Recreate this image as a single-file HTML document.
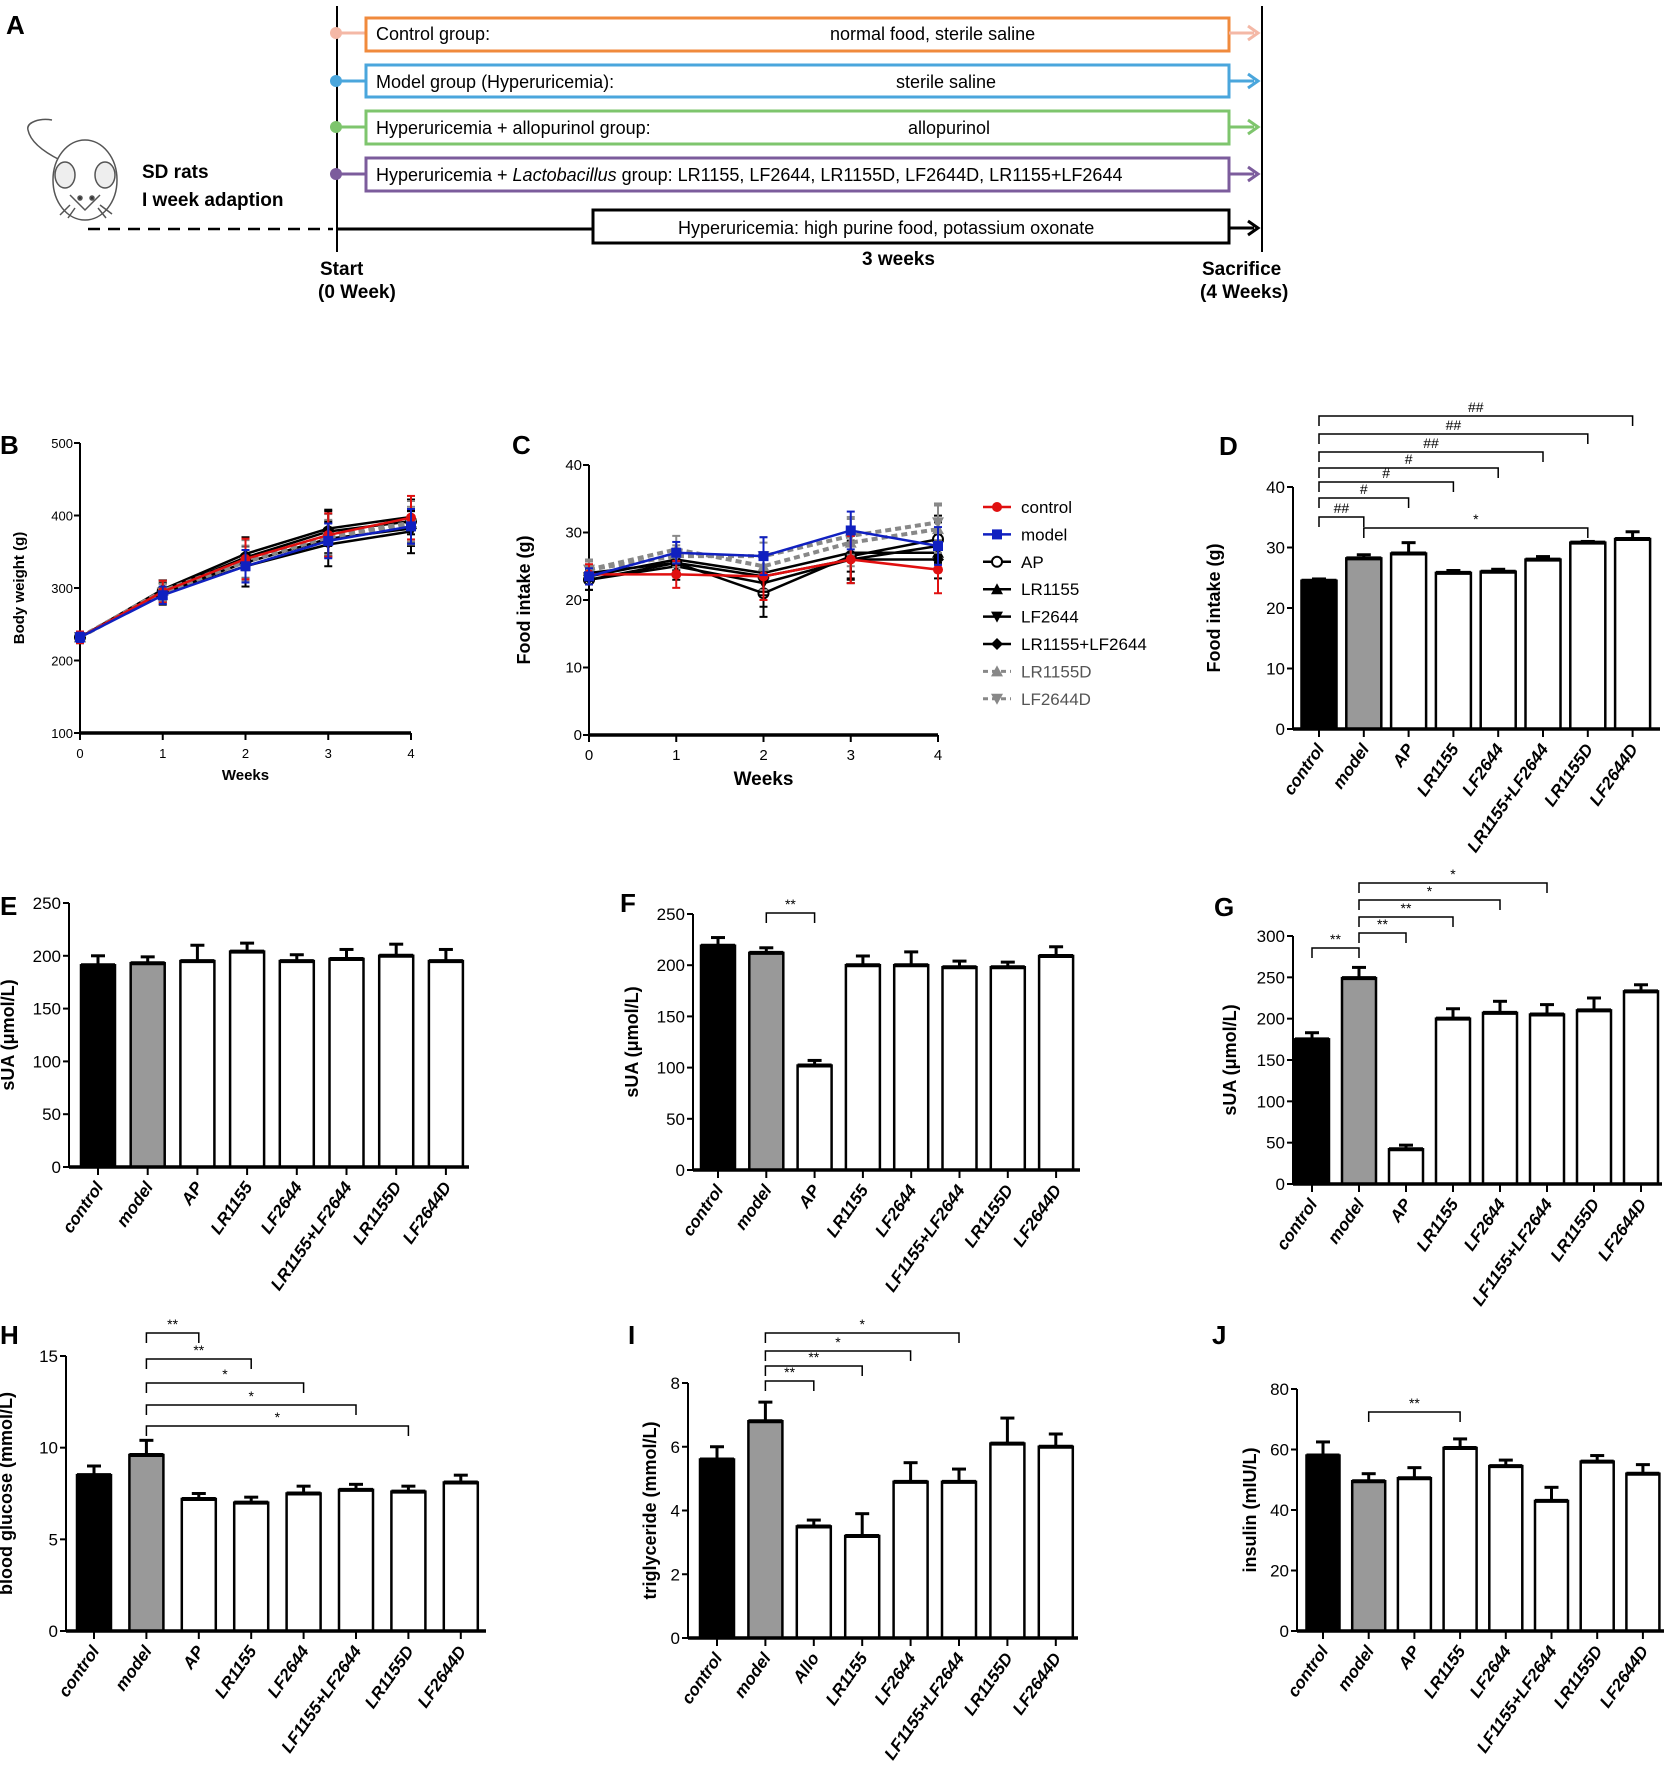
<!DOCTYPE html>
<html><head><meta charset="utf-8"><style>
html,body{margin:0;padding:0;background:#fff}
svg{display:block;font-family:"Liberation Sans",sans-serif}
</style></head><body>
<svg id="fig" width="1664" height="1772" viewBox="0 0 1664 1772" xmlns="http://www.w3.org/2000/svg">
<g id="panelA" font-size="18">
  <text x="6" y="34" font-size="26" font-weight="bold">A</text>
  <line x1="337" y1="6" x2="337" y2="252" stroke="#000" stroke-width="2"/>
  <line x1="1262" y1="6" x2="1262" y2="252" stroke="#000" stroke-width="2"/>
  <g>
    <circle cx="336" cy="33" r="6" fill="#f4b8a6"/><line x1="336" y1="33" x2="366" y2="33" stroke="#f4b8a6" stroke-width="3"/>
    <rect x="366" y="18" width="863" height="33" fill="none" stroke="#f08a3c" stroke-width="3"/>
    <line x1="1229" y1="33" x2="1254" y2="33" stroke="#f4b8a6" stroke-width="3"/><path d="M1248 26 L1258 33 L1248 40" fill="none" stroke="#f4b8a6" stroke-width="3"/>
    <text x="376" y="40">Control group:</text><text x="830" y="40">normal food, sterile saline</text>
  </g>
  <g>
    <circle cx="336" cy="81" r="6" fill="#4aa6dc"/><line x1="336" y1="81" x2="366" y2="81" stroke="#4aa6dc" stroke-width="3"/>
    <rect x="366" y="65" width="863" height="32" fill="none" stroke="#4aa6dc" stroke-width="3"/>
    <line x1="1229" y1="81" x2="1254" y2="81" stroke="#4aa6dc" stroke-width="3"/><path d="M1248 74 L1258 81 L1248 88" fill="none" stroke="#4aa6dc" stroke-width="3"/>
    <text x="376" y="88">Model group (Hyperuricemia):</text><text x="896" y="88">sterile saline</text>
  </g>
  <g>
    <circle cx="336" cy="127" r="6" fill="#7ec56d"/><line x1="336" y1="127" x2="366" y2="127" stroke="#7ec56d" stroke-width="3"/>
    <rect x="366" y="111" width="863" height="33" fill="none" stroke="#7ec56d" stroke-width="3"/>
    <line x1="1229" y1="127" x2="1254" y2="127" stroke="#7ec56d" stroke-width="3"/><path d="M1248 120 L1258 127 L1248 134" fill="none" stroke="#7ec56d" stroke-width="3"/>
    <text x="376" y="134">Hyperuricemia + allopurinol group:</text><text x="908" y="134">allopurinol</text>
  </g>
  <g>
    <circle cx="336" cy="174" r="6" fill="#7c5c9c"/><line x1="336" y1="174" x2="366" y2="174" stroke="#7c5c9c" stroke-width="3"/>
    <rect x="366" y="158" width="863" height="33" fill="none" stroke="#7c5c9c" stroke-width="3"/>
    <line x1="1229" y1="174" x2="1254" y2="174" stroke="#7c5c9c" stroke-width="3"/><path d="M1248 167 L1258 174 L1248 181" fill="none" stroke="#7c5c9c" stroke-width="3"/>
    <text x="376" y="181">Hyperuricemia + <tspan font-style="italic">Lactobacillus</tspan> group:  LR1155, LF2644, LR1155D, LF2644D, LR1155+LF2644</text>
  </g>
  <g>
    <line x1="88" y1="229" x2="333" y2="229" stroke="#000" stroke-width="2.5" stroke-dasharray="12,8"/>
    <line x1="337" y1="229" x2="593" y2="229" stroke="#000" stroke-width="3"/>
    <rect x="593" y="210" width="636" height="33" fill="#fff" stroke="#000" stroke-width="3"/>
    <line x1="1229" y1="228" x2="1254" y2="228" stroke="#000" stroke-width="3"/><path d="M1248 221 L1258 228 L1248 235" fill="none" stroke="#000" stroke-width="3"/>
    <text x="678" y="234">Hyperuricemia: high purine food, potassium oxonate</text>
  </g>
  <g fill="none" stroke="#555" stroke-width="1.5">
    <path d="M60 160 C40 150 30 140 28 130 C26 122 40 118 52 120"/>
    <ellipse cx="85" cy="180" rx="32" ry="40" fill="#fff"/>
    <ellipse cx="65" cy="175" rx="10" ry="13" fill="#eee"/><ellipse cx="105" cy="175" rx="10" ry="13" fill="#eee"/>
    <path d="M70 195 L85 210 L100 195"/>
    <circle cx="80" cy="198" r="2" fill="#333"/><circle cx="92" cy="198" r="2" fill="#333"/>
    <path d="M70 205 L60 215 M75 208 L68 218 M98 208 L106 218 M100 205 L112 214"/>
  </g>
  <text x="142" y="178" font-weight="bold" font-size="19">SD rats</text>
  <text x="142" y="206" font-weight="bold" font-size="19">I week adaption</text>
  <text x="320" y="275" font-weight="bold" font-size="19">Start</text>
  <text x="318" y="298" font-weight="bold" font-size="19">(0 Week)</text>
  <text x="862" y="265" font-weight="bold" font-size="19">3 weeks</text>
  <text x="1202" y="275" font-weight="bold" font-size="19">Sacrifice</text>
  <text x="1200" y="298" font-weight="bold" font-size="19">(4 Weeks)</text>
</g>
<g id="charts"></g>
</svg>
<script>
// ---------- Panel B (body weight) data ----------
const weeks = [0,1,2,3,4];
const bwNames = ["control","model","AP","LR1155","LF2644","LR1155+LF2644","LR1155D","LF2644D"];
const bwControl = [232,295,340,373,397];
const bwModel = [232,290,330,365,385];
const bwAP = [232,296,342,378,392];
const bwLR1155 = [232,298,347,382,398];
const bwLF2644 = [232,292,330,360,378];
const bwMix = [232,294,335,368,382];
const bwLR1155D = [232,296,338,372,390];
const bwLF2644D = [232,294,336,370,388];
const bwErr = [8,15,28,30,30];
// ---------- Panel C (food intake by week) data ----------
const fiControl = [23.8,23.8,23.5,26,24.5];
const fiModel = [23.5,27,26.5,30.3,28];
const fiAP = [23,25.5,21,26.5,29];
const fiLR1155 = [23.5,26,24,27,27];
const fiLF2644 = [23,25,22.5,26,28];
const fiMix = [24,25.5,23.5,26,26];
const fiLR1155D = [24.5,27.5,25,28.5,30.5];
const fiLF2644D = [24.5,26.5,26.5,29.5,31.5];
const fiErr = [1.5,2,3.5,3.5,3.5];
// ---------- Bar panels data ----------
const catsA = ["control","model","AP","LR1155","LF2644","LR1155+LF2644","LR1155D","LF2644D"];
const catsB = ["control","model","AP","LR1155","LF2644","LF1155+LF2644","LR1155D","LF2644D"];
const catsI = ["control","model","Allo","LR1155","LF2644","LF1155+LF2644","LR1155D","LF2644D"];
const dVals = [24.5,28.2,29,25.8,26,28,30.8,31.4];
const dErrs = [0.3,0.6,1.8,0.4,0.4,0.5,0.2,1.2];
const dTicks = [0,10,20,30,40];
const eVals = [191,193,195,204,195,197,200,195];
const eErrs = [9,6,15,8,6,9,11,11];
const eTicks = [0,50,100,150,200,250];
const fVals = [219,212,102,200,200,198,198,209];
const fErrs = [8,5,5,9,13,6,5,9];
const fTicks = [0,50,100,150,200,250];
const gVals = [175,249,42,200,207,205,210,233];
const gErrs = [8,13,5,12,14,12,15,8];
const gTicks = [0,50,100,150,200,250,300];
const hVals = [8.5,9.6,7.2,7.0,7.5,7.7,7.6,8.1];
const hErrs = [0.5,0.8,0.3,0.3,0.4,0.3,0.3,0.4];
const hTicks = [0,5,10,15];
const iVals = [5.6,6.8,3.5,3.2,4.9,4.9,6.1,6.0];
const iErrs = [0.4,0.6,0.2,0.7,0.6,0.4,0.8,0.4];
const iTicks = [0,2,4,6,8];
const jVals = [58,49.5,50.5,60.5,54.5,43,56,52];
const jErrs = [4.5,2.5,3.5,3,2,4.5,2,3];
const jTicks = [0,20,40,60,80];

const NS="http://www.w3.org/2000/svg";
const root=document.getElementById('charts');
function mk(tag,attrs,parent,text){const e=document.createElementNS(NS,tag);for(const k in attrs)e.setAttribute(k,attrs[k]);if(text!==undefined)e.textContent=text;(parent||root).appendChild(e);return e;}
const fills=["#000","#999","#fff","#fff","#fff","#fff","#fff","#fff"];

function barChart(c){
  const g=mk('g',{});
  
  
  const ymax=c.ticks[c.ticks.length-1];
  const Y=v=>c.y0-(v/ymax)*(c.y0-c.yTop);
  const X=i=>c.c0+i*c.dx;
  const lab=mk('text',{x:c.lx,y:c.ly,'font-size':26,'font-weight':'bold'},g,c.letter);
  
  
  mk('line',{x1:c.ax,y1:c.yTop,x2:c.ax,y2:c.y0,stroke:'#000','stroke-width':2},g);
  c.ticks.forEach(t=>{
    mk('line',{x1:c.ax-6,y1:Y(t),x2:c.ax,y2:Y(t),stroke:'#000','stroke-width':2},g);
    const tl=mk('text',{x:c.ax-8,y:Y(t)+6,'font-size':17,'text-anchor':'end'},g,String(t));
    
    
  });
  const yt=mk('text',{x:0,y:0,'font-size':18,'font-weight':'bold','text-anchor':'middle',transform:`translate(${c.tx},${(c.y0+c.yTop)/2}) rotate(-90)`},g,c.title);
  
  
  c.vals.forEach((v,i)=>{
    const x=X(i),yv=Y(v),ye=Y(v+c.errs[i]);
    mk('line',{x1:x,y1:yv,x2:x,y2:ye,stroke:'#000','stroke-width':3},g);
    mk('line',{x1:x-7,y1:ye,x2:x+7,y2:ye,stroke:'#000','stroke-width':3},g);
    const b=mk('rect',{x:x-c.w/2,y:yv,width:c.w,height:c.y0-yv,fill:fills[i],stroke:'#000','stroke-width':2.5},g);
    
    
    mk('line',{x1:x-c.w/2,y1:yv,x2:x+c.w/2,y2:yv,stroke:'#000','stroke-width':4},g);
    mk('line',{x1:x,y1:c.y0,x2:x,y2:c.y0+8,stroke:'#000','stroke-width':2},g);
    const cl=mk('text',{x:0,y:0,'font-size':17,'font-style':'italic','font-weight':'bold','text-anchor':'end',transform:`translate(${x+6},${c.y0+20}) rotate(-55)`},g,c.cats[i]);
    
    
  });
  mk('line',{x1:c.ax,y1:c.y0,x2:c.axEnd,y2:c.y0,stroke:'#000','stroke-width':3.5},g);
  (c.ann||[]).forEach(a=>{
    const x1=X(a[0]),x2=X(a[1]),y=a[2];
    mk('path',{d:`M${x1} ${y+10} L${x1} ${y} L${x2} ${y} L${x2} ${y+10}`,fill:'none',stroke:'#000','stroke-width':1.5},g);
    const at=mk('text',{x:(x1+x2)/2,y:y-4,'font-size':14,'text-anchor':'middle'},g,a[3]);
    
    
  });
}

barChart({name:'panel-d-food-intake',letter:'D',lx:1219,ly:455,ax:1293,y0:729,yTop:487,ticks:dTicks,c0:1319,dx:44.8,w:35,vals:dVals,errs:dErrs,cats:catsA,axEnd:1660,title:'Food intake (g)',tx:1220,
  ann:[[0,1,517,'##'],[0,2,498,'#'],[0,3,482,'#'],[0,4,468,'#'],[0,5,452,'##'],[0,6,434,'##'],[0,7,416,'##'],[1,6,528,'*']]});
barChart({name:'panel-e-sua',letter:'E',lx:0,ly:915,ax:69,y0:1167,yTop:903,ticks:eTicks,c0:98,dx:49.7,w:34,vals:eVals,errs:eErrs,cats:catsA,axEnd:469,title:'sUA (μmol/L)',tx:14});
barChart({name:'panel-f-sua',letter:'F',lx:620,ly:912,ax:693,y0:1170,yTop:914,ticks:fTicks,c0:718,dx:48.3,w:34,vals:fVals,errs:fErrs,cats:catsB,axEnd:1080,title:'sUA (μmol/L)',tx:638,
  ann:[[1,2,913,'**']]});
barChart({name:'panel-g-sua',letter:'G',lx:1214,ly:916,ax:1293,y0:1184,yTop:936,ticks:gTicks,c0:1312,dx:47,w:34,vals:gVals,errs:gErrs,cats:catsB,axEnd:1662,title:'sUA (μmol/L)',tx:1236,
  ann:[[0,1,948,'**'],[1,2,933,'**'],[1,3,917,'**'],[1,4,900,'*'],[1,5,883,'*']]});
barChart({name:'panel-h-blood-glucose',letter:'H',lx:0,ly:1344,ax:66,y0:1631,yTop:1356,ticks:hTicks,c0:94,dx:52.4,w:34,vals:hVals,errs:hErrs,cats:catsB,axEnd:486,title:'blood glucose (mmol/L)',tx:12,
  ann:[[1,2,1333,'**'],[1,3,1359,'**'],[1,4,1383,'*'],[1,5,1405,'*'],[1,6,1426,'*']]});
barChart({name:'panel-i-triglyceride',letter:'I',lx:628,ly:1344,ax:688,y0:1638,yTop:1383,ticks:iTicks,c0:717,dx:48.4,w:34,vals:iVals,errs:iErrs,cats:catsI,axEnd:1078,title:'triglyceride (mmol/L)',tx:656,
  ann:[[1,5,1333,'*'],[1,4,1351,'*'],[1,3,1366,'**'],[1,2,1381,'**']]});
barChart({name:'panel-j-insulin',letter:'J',lx:1212,ly:1344,ax:1297,y0:1631,yTop:1389,ticks:jTicks,c0:1323,dx:45.7,w:33,vals:jVals,errs:jErrs,cats:catsB,axEnd:1664,title:'insulin (mIU/L)',tx:1256,
  ann:[[1,3,1412,'**']]});

// ---------- line charts ----------
const styles=[
 {col:'#e01010',dash:'',m:'circle'},{col:'#1020c0',dash:'',m:'square'},{col:'#000',dash:'',m:'open'},
 {col:'#000',dash:'',m:'tri'},{col:'#000',dash:'',m:'tridown'},{col:'#000',dash:'',m:'diamond'},
 {col:'#888',dash:'6,4',m:'tri'},{col:'#888',dash:'6,4',m:'tridown'}];
function marker(g,m,x,y,col){
  if(m==='circle')mk('circle',{cx:x,cy:y,r:5,fill:col},g);
  else if(m==='square')mk('rect',{x:x-5,y:y-5,width:10,height:10,fill:col},g);
  else if(m==='open')mk('circle',{cx:x,cy:y,r:5,fill:'#fff',stroke:col,'stroke-width':2},g);
  else if(m==='tri')mk('path',{d:`M${x} ${y-6} L${x+6} ${y+5} L${x-6} ${y+5}Z`,fill:col},g);
  else if(m==='tridown')mk('path',{d:`M${x} ${y+6} L${x+6} ${y-5} L${x-6} ${y-5}Z`,fill:col},g);
  else mk('path',{d:`M${x} ${y-6} L${x+6} ${y} L${x} ${y+6} L${x-6} ${y}Z`,fill:col},g);
}
function lineChart(c){
  const g=mk('g',{});
  
  
  const X=w=>c.x0+w*(c.x4-c.x0)/4;
  const ymin=c.ticks[0],ymax=c.ticks[c.ticks.length-1];
  const Y=v=>c.y0-(v-ymin)/(ymax-ymin)*(c.y0-c.yTop);
  const lab=mk('text',{x:c.lx,y:c.ly,'font-size':26,'font-weight':'bold'},g,c.letter);
  
  
  mk('line',{x1:c.x0,y1:c.yTop,x2:c.x0,y2:c.y0,stroke:'#000','stroke-width':2},g);
  mk('line',{x1:c.x0,y1:c.y0,x2:c.x4,y2:c.y0,stroke:'#000','stroke-width':3.5},g);
  c.ticks.forEach(t=>{
    mk('line',{x1:c.x0-6,y1:Y(t),x2:c.x0,y2:Y(t),stroke:'#000','stroke-width':2},g);
    const tl=mk('text',{x:c.x0-7,y:Y(t)+5,'font-size':c.fs,'text-anchor':'end'},g,String(t));
    
    
  });
  weeks.forEach(w=>{
    mk('line',{x1:X(w),y1:c.y0,x2:X(w),y2:c.y0+7,stroke:'#000','stroke-width':2},g);
    const tl=mk('text',{x:X(w),y:c.y0+25,'font-size':c.fs,'text-anchor':'middle'},g,String(w));
    
    
  });
  const xt=mk('text',{x:(c.x0+c.x4)/2,y:c.y0+c.xtOff,'font-size':c.xfs,'font-weight':'bold','text-anchor':'middle'},g,'Weeks');
  
  
  const yt=mk('text',{x:0,y:0,'font-size':c.yfs,'font-weight':'bold','text-anchor':'middle',transform:`translate(${c.tx},${(c.y0+c.yTop)/2}) rotate(-90)`},g,c.title);
  
  
  const order=[2,3,4,5,6,7,0,1];
  order.forEach(si=>{
    const s=c.series[si],st=styles[si];
    const sg=mk('g',{},g);
    
    
    s.forEach((v,w)=>{const e=c.err[w]*(si%2?0.8:1);
      mk('line',{x1:X(w),y1:Y(v-e),x2:X(w),y2:Y(v+e),stroke:st.col,'stroke-width':2},sg);
      mk('line',{x1:X(w)-4,y1:Y(v+e),x2:X(w)+4,y2:Y(v+e),stroke:st.col,'stroke-width':2},sg);
      mk('line',{x1:X(w)-4,y1:Y(v-e),x2:X(w)+4,y2:Y(v-e),stroke:st.col,'stroke-width':2},sg);
    });
    mk('polyline',{points:s.map((v,w)=>X(w)+','+Y(v)).join(' '),fill:'none',stroke:st.col,'stroke-width':st.dash?4:2.5,'stroke-dasharray':st.dash},sg);
    s.forEach((v,w)=>marker(sg,st.m,X(w),Y(v),st.col));
  });
  if(c.legend){
    bwNames.forEach((n,i)=>{
      const st=styles[i],y=507+i*27.4;
      const lg=mk('g',{},g);
      
      
      mk('line',{x1:983,y1:y,x2:1011,y2:y,stroke:st.col,'stroke-width':st.dash?3:2.5,'stroke-dasharray':st.dash?'5,4':''},lg);
      marker(lg,st.m,997,y,st.col);
      mk('text',{x:1021,y:y+6,'font-size':17,fill:st.dash?'#555':'#000'},lg,n);
    });
  }
}
lineChart({name:'panel-b-body-weight',letter:'B',lx:0,ly:454,x0:80,x4:411,y0:733,yTop:443,ticks:[100,200,300,400,500],series:[bwControl,bwModel,bwAP,bwLR1155,bwLF2644,bwMix,bwLR1155D,bwLF2644D],err:bwErr,title:'Body weight (g)',tx:24,fs:13,xfs:15,yfs:15,xtOff:47});
lineChart({name:'panel-c-food-intake',letter:'C',lx:512,ly:454,x0:589,x4:938,y0:735,yTop:465,ticks:[0,10,20,30,40],series:[fiControl,fiModel,fiAP,fiLR1155,fiLF2644,fiMix,fiLR1155D,fiLF2644D],err:fiErr,title:'Food intake (g)',tx:530,fs:15,xfs:19,yfs:18,xtOff:50,legend:true});
</script>
</body></html>
